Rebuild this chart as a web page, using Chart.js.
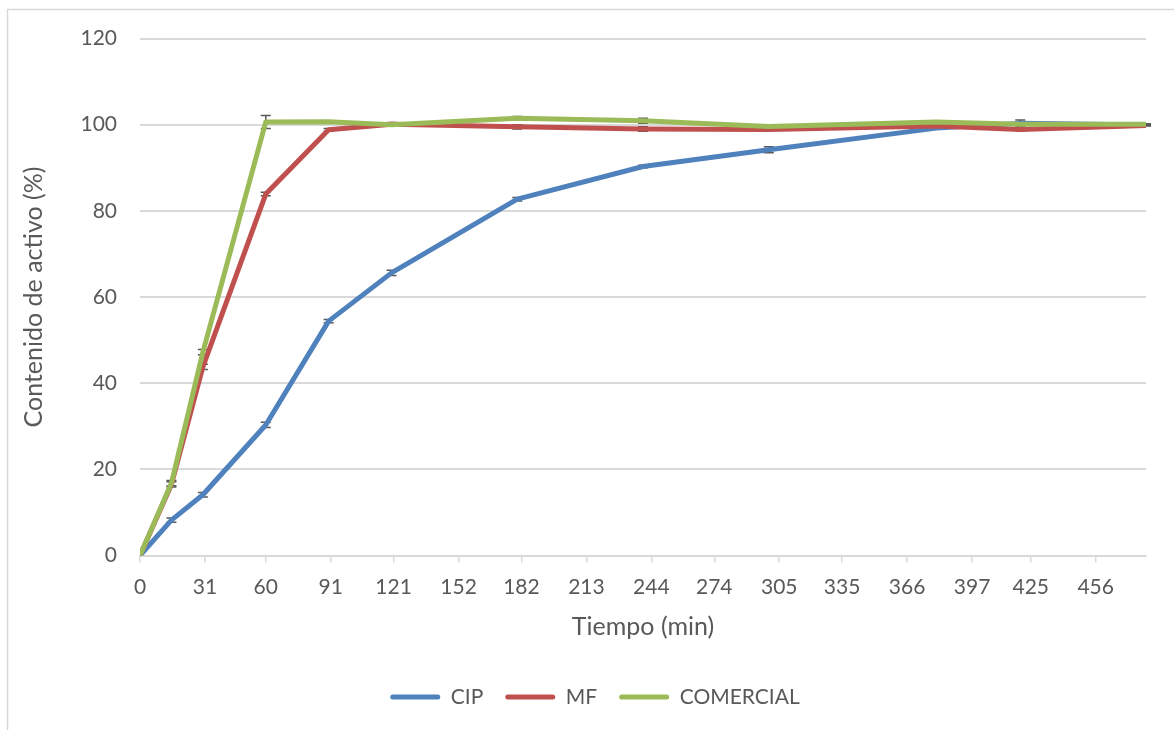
<!DOCTYPE html>
<html lang="es">
<head>
    <meta charset="UTF-8">
    <title>Contenido de activo</title>
    <script src="https://cdn.jsdelivr.net/npm/chart.js"></script>
    <style>
        html, body { margin: 0; padding: 0; background: #fff; }
        #wrap { width: 1174px; height: 730px; }
    </style>
</head>
<body>
    <div id="wrap">
        <canvas id="activoChart" width="1174" height="730"></canvas>
    </div>

    <script>
        // datos
        const tiempo = [0, 15, 30, 60, 90, 120, 180, 240, 300, 380, 420, 480];
        const cip = [0, 8.2, 14.1, 30.3, 54.4, 65.6, 82.7, 90.3, 94.2, 99.2, 100.3, 99.9];
        const mf = [0, 16.5, 43.8, 83.9, 98.8, 100.1, 99.5, 99.0, 98.9, 99.7, 98.9, 99.8];
        const comercial = [0, 16.8, 47.2, 100.6, 100.7, 100.0, 101.5, 100.9, 99.6, 100.6, 100.1, 100.1];

        // desviaciones (barras de error)
        const errCip = [0, 0.5, 0.5, 0.6, 0.4, 0.6, 0.4, 0.3, 0.7, 0.2, 0.8, 0.1];
        const errMf = [0, 0.6, 0.6, 0.4, 0.3, 0.4, 0.5, 0.5, 0.2, 0.2, 0.3, 0.1];
        const errComercial = [0, 0.6, 0.6, 1.5, 0.2, 0.3, 0.4, 0.6, 0.2, 0.2, 0.2, 0.1];

        const xTicks = [0, 31, 60, 91, 121, 152, 182, 213, 244, 274, 305, 335, 366, 397, 425, 456];
        const yTicks = [0, 20, 40, 60, 80, 100, 120];

        const fuente = 'Lato, "Open Sans", sans-serif';
        const gris = '#595959';
        const rejilla = '#d9d9d9';

        const puntos = (vals) => tiempo.map((t, i) => ({ x: t, y: vals[i] }));

        const errorBars = {
            id: 'errorBars',
            beforeDatasetsDraw(chart) {
                const { ctx, scales: { x, y } } = chart;
                ctx.save();
                ctx.strokeStyle = gris;
                ctx.lineWidth = 1.5;
                chart.data.datasets.forEach(ds => {
                    ds.data.forEach((p, i) => {
                        const e = ds.errores[i];
                        if (!e) return;
                        const px = x.getPixelForValue(p.x);
                        const top = y.getPixelForValue(p.y + e);
                        const bot = y.getPixelForValue(p.y - e);
                        ctx.beginPath();
                        ctx.moveTo(px, top); ctx.lineTo(px, bot);
                        ctx.moveTo(px - 5, top); ctx.lineTo(px + 5, top);
                        ctx.moveTo(px - 5, bot); ctx.lineTo(px + 5, bot);
                        ctx.stroke();
                    });
                });
                ctx.restore();
            }
        };

        const marco = {
            id: 'marco',
            beforeDraw(chart) {
                const { ctx, width, height } = chart;
                ctx.save();
                ctx.fillStyle = '#fff';
                ctx.fillRect(0, 0, width, height);
                ctx.strokeStyle = rejilla;
                ctx.lineWidth = 1.5;
                ctx.strokeRect(7.5, 9.5, width + 10, height + 10);
                ctx.restore();
            }
        };

        // la leyenda de Excel queda centrada en todo el marco, algo más a la derecha
        const moverLeyenda = {
            id: 'moverLeyenda',
            afterLayout(chart) {
                chart.legend.left += 18;
                chart.legend.right += 18;
            }
        };

        const serie = (label, vals, errs, color, order) => ({
            label: label,
            data: puntos(vals),
            errores: errs,
            borderColor: color,
            backgroundColor: color,
            borderWidth: 5,
            borderJoinStyle: 'round',
            borderCapStyle: 'round',
            pointRadius: 0,
            pointHoverRadius: 0,
            tension: 0,
            order: order
        });

        new Chart(document.getElementById('activoChart'), {
            type: 'line',
            data: {
                datasets: [
                    serie('CIP', cip, errCip, '#4F81BD', 2),
                    serie('MF', mf, errMf, '#C0504D', 1),
                    serie('COMERCIAL', comercial, errComercial, '#9BBB59', 0)
                ]
            },
            options: {
                responsive: false,
                animation: false,
                layout: {
                    padding: { left: 8, top: 38.5, right: 28, bottom: 12.5 }
                },
                plugins: {
                    tooltip: { enabled: false },
                    legend: {
                        position: 'bottom',
                        labels: {
                            color: gris,
                            font: { family: fuente, size: 21 },
                            boxWidth: 50,
                            boxHeight: 5,
                            useBorderRadius: true,
                            borderRadius: 2.5,
                            padding: 22,
                            sort: (a, b) => a.datasetIndex - b.datasetIndex,
                            generateLabels: (chart) => Chart.defaults.plugins.legend.labels.generateLabels(chart)
                                .map(l => Object.assign(l, { lineWidth: 0 }))
                        }
                    }
                },
                scales: {
                    x: {
                        type: 'linear',
                        min: 0,
                        max: 480,
                        afterBuildTicks: (scale) => {
                            scale.ticks = xTicks.map(v => ({ value: v }));
                        },
                        afterFit: (scale) => { scale.height = 109; },
                        grid: {
                            drawOnChartArea: false,
                            drawTicks: true,
                            tickLength: 7,
                            color: rejilla,
                            lineWidth: 1.5
                        },
                        border: { color: rejilla, width: 2 },
                        ticks: {
                            color: gris,
                            font: { family: fuente, size: 21 },
                            padding: 12,
                            maxRotation: 0,
                            autoSkip: false
                        },
                        title: {
                            display: true,
                            text: 'Tiempo (min)',
                            color: gris,
                            font: { family: fuente, size: 25 },
                            padding: { top: 0, bottom: 22.5 }
                        }
                    },
                    y: {
                        min: 0,
                        max: 120,
                        afterBuildTicks: (scale) => {
                            scale.ticks = yTicks.map(v => ({ value: v }));
                        },
                        afterFit: (scale) => { scale.width = 132; },
                        grid: {
                            color: rejilla,
                            lineWidth: 2,
                            drawTicks: false
                        },
                        border: { display: false },
                        ticks: {
                            color: gris,
                            font: { family: fuente, size: 21 },
                            padding: 23
                        },
                        title: {
                            display: true,
                            text: 'Contenido de activo (%)',
                            color: gris,
                            font: { family: fuente, size: 25 },
                            padding: { top: 11, bottom: 0 }
                        }
                    }
                }
            },
            plugins: [marco, errorBars, moverLeyenda]
        });
    </script>
</body>
</html>
